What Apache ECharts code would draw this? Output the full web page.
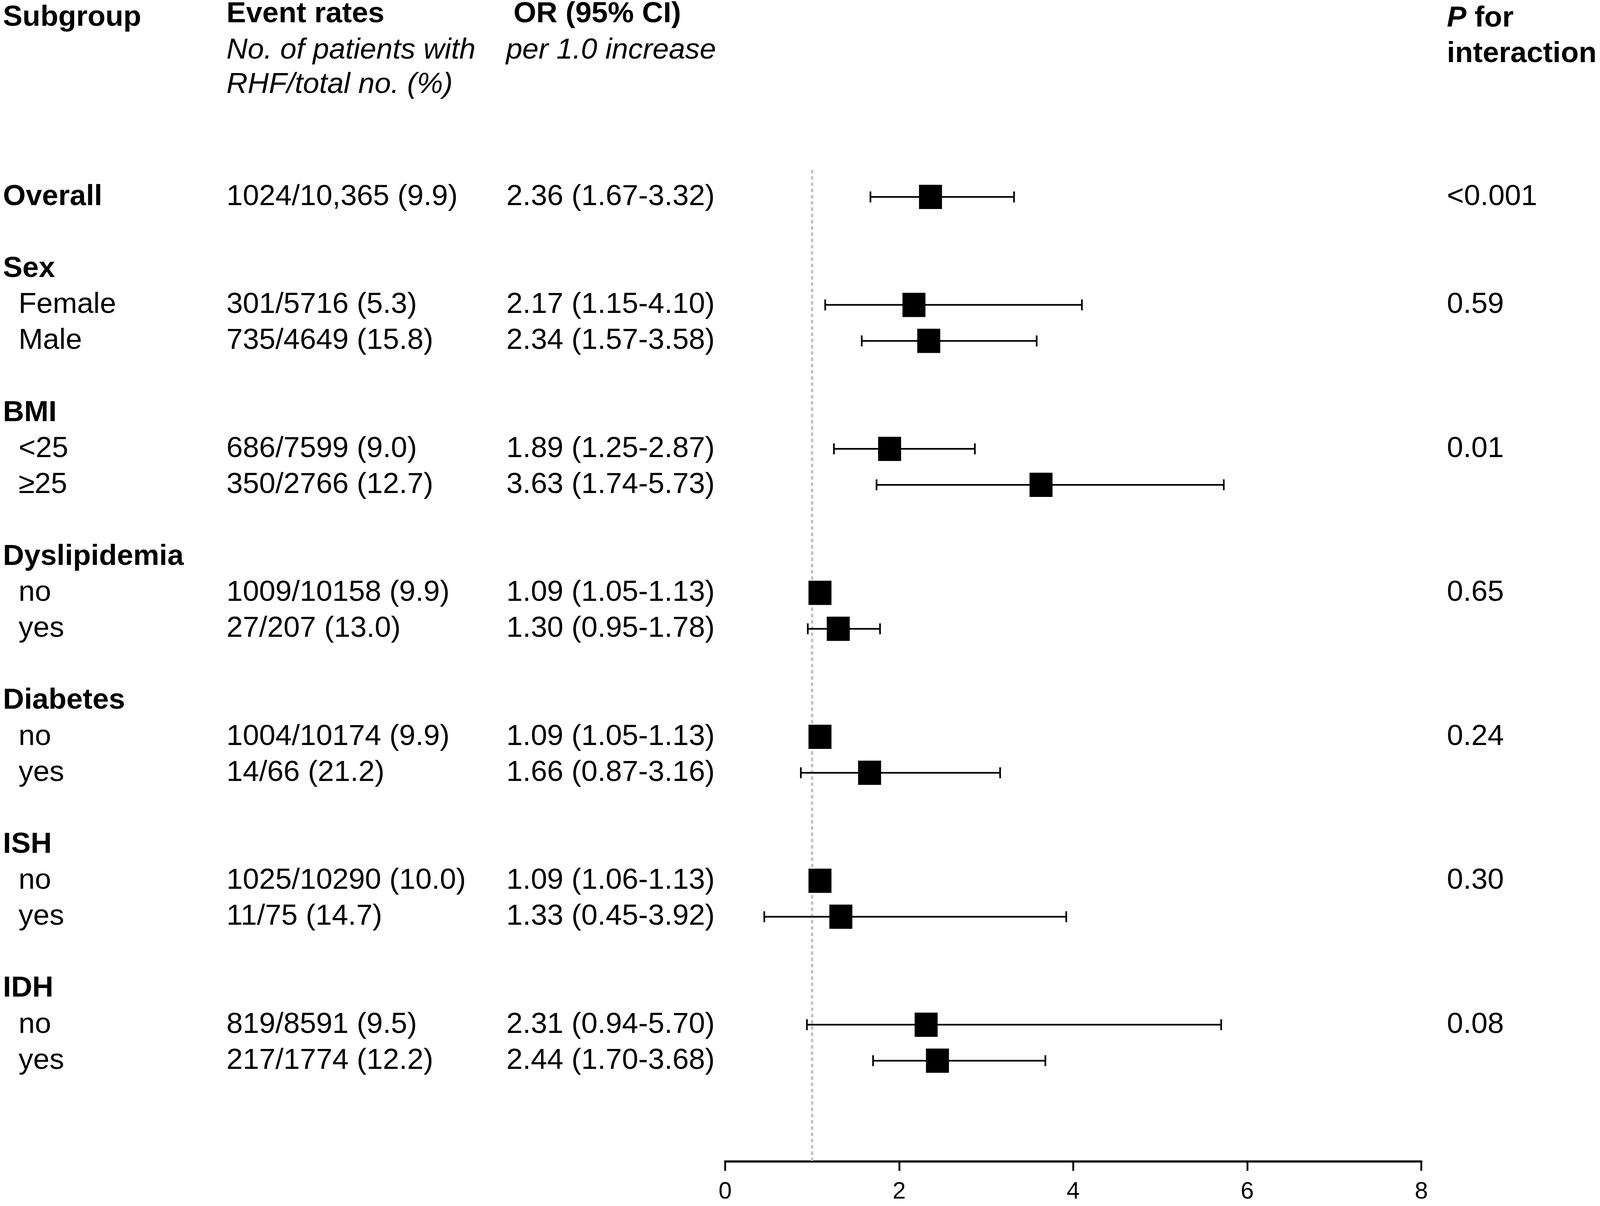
<!DOCTYPE html>
<html lang="en">
<head>
    <meta charset="UTF-8">
    <title>Forest plot</title>
    <script src="https://cdn.jsdelivr.net/npm/echarts@6/dist/echarts.min.js"></script>
    <style>
        html, body { margin: 0; padding: 0; background: #fff; overflow: hidden; }
        #main { width: 100vw; height: 100vh; }
    </style>
</head>
<body>
<div id="main"></div>

<script>
    // subgroup rows, top to bottom (headers are bold, blank line before each header)
    var subgroups = ['Overall', 'Sex', 'Female', 'Male', 'BMI', '<25', '\u226525',
        'Dyslipidemia', 'no', 'yes', 'Diabetes', 'no', 'yes', 'ISH', 'no', 'yes', 'IDH', 'no', 'yes'];
    var isHeader = [1, 1, 0, 0, 1, 0, 0, 1, 0, 0, 1, 0, 0, 1, 0, 0, 1, 0, 0];
    var eventRates = ['1024/10,365 (9.9)', '', '301/5716 (5.3)', '735/4649 (15.8)', '',
        '686/7599 (9.0)', '350/2766 (12.7)', '', '1009/10158 (9.9)', '27/207 (13.0)', '',
        '1004/10174 (9.9)', '14/66 (21.2)', '', '1025/10290 (10.0)', '11/75 (14.7)', '',
        '819/8591 (9.5)', '217/1774 (12.2)'];
    var orValue = [2.36, null, 2.17, 2.34, null, 1.89, 3.63, null, 1.09, 1.30, null, 1.09, 1.66, null, 1.09, 1.33, null, 2.31, 2.44];
    var ciLow   = [1.67, null, 1.15, 1.57, null, 1.25, 1.74, null, 1.05, 0.95, null, 1.05, 0.87, null, 1.06, 0.45, null, 0.94, 1.70];
    var ciHigh  = [3.32, null, 4.10, 3.58, null, 2.87, 5.73, null, 1.13, 1.78, null, 1.13, 3.16, null, 1.13, 3.92, null, 5.70, 3.68];
    var pInteraction = ['<0.001', '', '0.59', '', '', '0.01', '', '', '0.65', '', '', '0.24', '', '', '0.30', '', '', '0.08', ''];
    var xTicks = [0, 2, 4, 6, 8];
    var refValue = 1;

    var FONT = '"Liberation Sans", Arial, sans-serif';

    // row index of every subgroup (skip one line before each header)
    var rows = [];
    var r = 0;
    for (var i = 0; i < subgroups.length; i++) {
        if (i > 0) r += isHeader[i] ? 2 : 1;
        rows.push(r);
    }

    var textData = [];
    var forestData = [];
    for (var i = 0; i < subgroups.length; i++) {
        textData.push([0, rows[i], i]);
        if (orValue[i] != null) forestData.push([orValue[i], rows[i], ciLow[i], ciHigh[i]]);
    }

    function orText(i) {
        if (orValue[i] == null) return '';
        return orValue[i].toFixed(2) + ' (' + ciLow[i].toFixed(2) + '-' + ciHigh[i].toFixed(2) + ')';
    }

    var myChart = echarts.init(document.getElementById('main'));

    // layout was measured on a 4316 x 3087 canvas; scale to whatever we really got
    var sx = myChart.getWidth() / 4316;
    var sy = myChart.getHeight() / 3087;
    var FS = 79 * sx;
    function X(v) { return v * sx; }
    function Y(v) { return v * sy; }

    function txt(s, x, y, bold, italic) {
        return {
            type: 'text',
            style: {
                text: s, x: x, y: y, fill: '#000',
                fontFamily: FONT, fontSize: FS,
                fontWeight: bold ? 'bold' : 'normal',
                fontStyle: italic ? 'italic' : 'normal',
                verticalAlign: 'middle', align: 'left'
            }
        };
    }

    var option = {
        animation: false,
        backgroundColor: '#fff',
        grid: { left: X(1956), right: X(482), top: Y(435), bottom: Y(114), containLabel: false },
        xAxis: {
            type: 'value',
            min: xTicks[0],
            max: xTicks[xTicks.length - 1],
            interval: xTicks[1] - xTicks[0],
            axisLine: { show: true, onZero: false, lineStyle: { color: '#000', width: X(6) } },
            axisTick: { show: true, length: Y(24), lineStyle: { color: '#000', width: X(5) } },
            axisLabel: { color: '#000', fontSize: 64 * sx, fontFamily: FONT, margin: Y(48) },
            splitLine: { show: false }
        },
        yAxis: {
            type: 'value',
            inverse: true,
            min: -0.75,
            max: 26.8,
            show: false
        },
        graphic: [
            txt('Subgroup', X(8), Y(45), true, false),
            txt('Event rates', X(611), Y(36), true, false),
            txt('No. of patients with', X(611), Y(129), false, true),
            txt('RHF/total no. (%)', X(611), Y(217), false, true),
            txt('OR (95% CI)', X(1385), Y(36), true, false),
            txt('per 1.0 increase', X(1365), Y(129), false, true),
            {
                type: 'text',
                style: {
                    text: '{i|P}{b| for}', x: X(3903), y: Y(47), verticalAlign: 'middle',
                    rich: {
                        i: { fontFamily: FONT, fontSize: FS, fontWeight: 'bold', fontStyle: 'italic', fill: '#000' },
                        b: { fontFamily: FONT, fontSize: FS, fontWeight: 'bold', fill: '#000' }
                    }
                }
            },
            txt('interaction', X(3903), Y(138), true, false)
        ],
        series: [
            {
                // table text, also carries the reference line (drawn under the squares)
                type: 'custom',
                clip: false,
                silent: true,
                z: 1,
                data: textData,
                renderItem: function (params, api) {
                    var idx = api.value(2);
                    var y = api.coord([0, api.value(1)])[1];
                    var children = [
                        txt(subgroups[idx], X(isHeader[idx] ? 8 : 50), y, !!isHeader[idx], false)
                    ];
                    if (eventRates[idx]) children.push(txt(eventRates[idx], X(611), y, false, false));
                    if (orValue[idx] != null) children.push(txt(orText(idx), X(1366), y, false, false));
                    if (pInteraction[idx]) children.push(txt(pInteraction[idx], X(3903), y, false, false));
                    return { type: 'group', children: children };
                },
                markLine: {
                    silent: true,
                    symbol: 'none',
                    label: { show: false },
                    lineStyle: { color: '#c0c0c0', type: [9 * sy, 7 * sy], width: X(6) },
                    data: [{ xAxis: refValue }]
                }
            },
            {
                // CI whiskers + square
                type: 'custom',
                clip: false,
                silent: true,
                z: 5,
                data: forestData,
                renderItem: function (params, api) {
                    var c = api.coord([api.value(0), api.value(1)]);
                    var lo = api.coord([api.value(2), api.value(1)]);
                    var hi = api.coord([api.value(3), api.value(1)]);
                    var cap = Y(14), hw = X(31), hh = Y(31);
                    var ls = { stroke: '#000', lineWidth: X(4.5) };
                    return {
                        type: 'group',
                        children: [
                            { type: 'line', shape: { x1: lo[0], y1: c[1], x2: hi[0], y2: c[1] }, style: ls },
                            { type: 'line', shape: { x1: lo[0], y1: c[1] - cap, x2: lo[0], y2: c[1] + cap }, style: ls },
                            { type: 'line', shape: { x1: hi[0], y1: c[1] - cap, x2: hi[0], y2: c[1] + cap }, style: ls },
                            { type: 'rect', shape: { x: c[0] - hw, y: c[1] - hh, width: hw * 2, height: hh * 2 }, style: { fill: '#000' } }
                        ]
                    };
                }
            }
        ]
    };

    myChart.setOption(option);
</script>

</body>
</html>
